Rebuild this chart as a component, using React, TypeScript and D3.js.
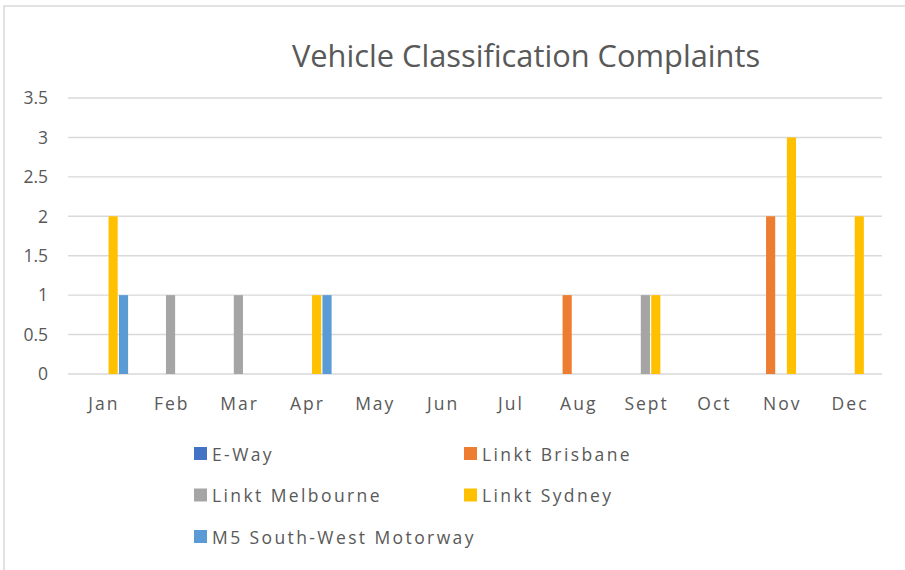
import React from "react";
import * as d3 from "d3";

// chart values
const months = ["Jan", "Feb", "Mar", "Apr", "May", "Jun", "Jul", "Aug", "Sept", "Oct", "Nov", "Dec"];
const seriesNames = ["E-Way", "Linkt Brisbane", "Linkt Melbourne", "Linkt Sydney", "M5 South-West Motorway"];
const eWay = [0, 0, 0, 0, 0, 0, 0, 0, 0, 0, 0, 0];
const linktBrisbane = [0, 0, 0, 0, 0, 0, 0, 1, 0, 0, 2, 0];
const linktMelbourne = [0, 1, 1, 0, 0, 0, 0, 0, 1, 0, 0, 0];
const linktSydney = [2, 0, 0, 1, 0, 0, 0, 0, 1, 0, 3, 2];
const m5SouthWest = [1, 0, 0, 1, 0, 0, 0, 0, 0, 0, 0, 0];
const yTicks = [0, 0.5, 1, 1.5, 2, 2.5, 3, 3.5];
const colors = ["#4472C4", "#ED7D31", "#A5A5A5", "#FFC000", "#5B9BD5"];

const seriesValues = [eWay, linktBrisbane, linktMelbourne, linktSydney, m5SouthWest];

const W = 905;
const H = 570;
const font = "Open Sans, 'DejaVu Sans', sans-serif";
const textColor = "#595959";

export default function App() {
  const x0 = d3.scaleBand().domain(months).range([68, 882]).padding(0);
  const x1 = d3
    .scaleBand()
    .domain(seriesNames)
    .range([0, x0.bandwidth()])
    .paddingInner(0.12)
    .paddingOuter(0.82);
  const y = d3.scaleLinear().domain([0, 3.5]).range([374, 98]);

  const bars: { key: string; x: number; y: number; w: number; h: number; c: string }[] = [];
  seriesNames.forEach((name, si) => {
    seriesValues[si].forEach((v, mi) => {
      if (v <= 0) return;
      bars.push({
        key: name + months[mi],
        x: (x0(months[mi]) as number) + (x1(name) as number) + 0.8,
        y: y(v),
        w: x1.bandwidth(),
        h: y(0) - y(v),
        c: colors[si],
      });
    });
  });

  // legend: two columns, three rows
  const legendCol = d3.scaleOrdinal<number, number>().domain([0, 1]).range([194, 464]);
  const legendRow = d3.scaleLinear().domain([0, 1]).range([454, 495.5]);

  return (
    <svg
      width={W}
      height={H}
      style={{ position: "absolute", left: 0, top: 0, display: "block", background: "#fff" }}
    >
      <rect x={4} y={6} width={W + 10} height={H + 10} fill="#fff" stroke="#d9d9d9" strokeWidth={1.5} />
      <text
        x={526}
        y={67}
        textAnchor="middle"
        fontFamily={font}
        fontSize={30.8}
        fill={textColor}
      >
        Vehicle Classification Complaints
      </text>

      {yTicks.map((t) => (
        <g key={t}>
          <line x1={68} x2={882} y1={y(t)} y2={y(t)} stroke="#d9d9d9" strokeWidth={1.4} />
          <text
            x={48}
            y={y(t)}
            dy="0.36em"
            textAnchor="end"
            fontFamily={font}
            fontSize={17.5}
            fill={textColor}
          >
            {t}
          </text>
        </g>
      ))}

      {bars.map((b) => (
        <rect key={b.key} x={b.x} y={b.y} width={b.w} height={b.h} fill={b.c} />
      ))}

      {months.map((m) => (
        <text
          key={m}
          x={(x0(m) as number) + x0.bandwidth() / 2 + 2}
          y={409.5}
          textAnchor="middle"
          fontFamily={font}
          fontSize={17.5}
          letterSpacing={2}
          fill={textColor}
        >
          {m}
        </text>
      ))}

      {seriesNames.map((name, i) => {
        const lx = legendCol(i % 2);
        const ly = legendRow(Math.floor(i / 2));
        return (
          <g key={name}>
            <rect x={lx} y={ly - 7} width={13} height={13} fill={colors[i]} />
            <text
              x={lx + 18}
              y={ly + 6.5}
              fontFamily={font}
              fontSize={17.5}
              letterSpacing={2.4}
              fill={textColor}
            >
              {name}
            </text>
          </g>
        );
      })}
    </svg>
  );
}
